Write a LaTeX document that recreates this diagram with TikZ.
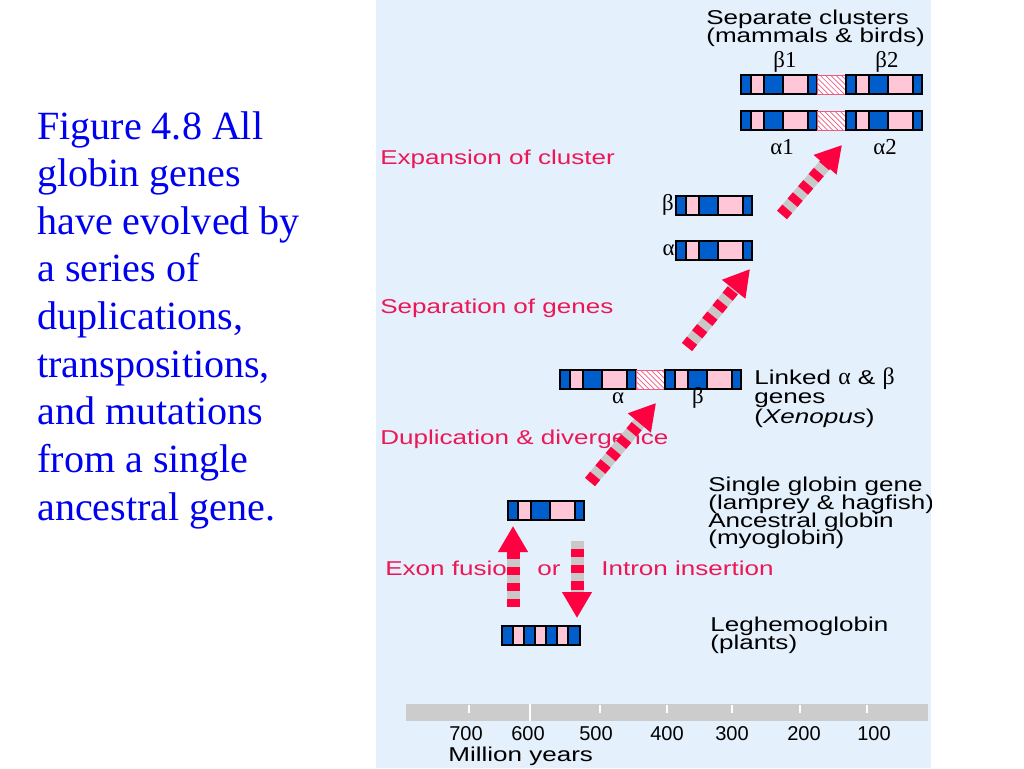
\documentclass[tikz,border=0pt]{standalone}
\usepackage{fontspec}
\setmainfont{Liberation Serif}
\newfontfamily\diagfont[FakeStretch=1.3]{Liberation Sans}
\newfontfamily\digitfont{Liberation Sans}
\newfontfamily\greekfont{Liberation Serif}
\usepackage{xcolor}
\usepackage{tikz}
\usetikzlibrary{arrows.meta}
\usetikzlibrary{patterns}

\definecolor{panelblue}{RGB}{228,240,252}
\definecolor{exonblue}{RGB}{0,94,204}
\definecolor{intronpink}{RGB}{255,198,216}
\definecolor{hatchred}{RGB}{240,90,130}
\definecolor{arrowred}{RGB}{255,0,64}
\definecolor{labelred}{RGB}{236,24,86}
\definecolor{stripegray}{RGB}{200,200,200}
\definecolor{axisgray}{RGB}{204,204,204}
\definecolor{captionblue}{RGB}{0,0,240}

\newcommand{\tightlines}{\lineskiplimit=-20pt\relax}

\tikzset{
  exon/.style={fill=exonblue},
  intron/.style={fill=intronpink},
  gene line/.style={draw=black, line width=0.8pt},
  spacer/.style={draw=hatchred, line width=0.5pt, pattern=north west lines, pattern color=hatchred},
  caption/.style={anchor=north west, inner sep=0, align=left, text=captionblue,
    font=\fontsize{22.8}{27.1}\selectfont},
  redlabel/.style={anchor=base west, inner sep=0, text=labelred,
    font=\diagfont\fontsize{11.4}{10}\selectfont},
  blacklabel/.style={anchor=north west, inner sep=0, align=left,
    font=\diagfont\fontsize{11.4}{10}\selectfont\tightlines},
  greeklabel/.style={inner sep=0, font=\greekfont\fontsize{13}{13}\selectfont},
  yearlabel/.style={anchor=base, inner sep=0, font=\digitfont\fontsize{11.4}{10}\selectfont},
  stripe under/.style={draw=stripegray, line width=7.4pt,
    -{Triangle[length=14.8pt,width=16pt]}},
  stripe over/.style={draw=arrowred, line width=7.4pt, dash pattern=on 4.6pt off 4.6pt,
    -{Triangle[length=14.8pt,width=16pt]}},
}

\newcommand{\globin}[3]{%
  \begin{scope}[shift={(#2,#3)}]
    \fill[intron] (0,0) rectangle (76,19);
    \fill[exon] (0,0) rectangle (10,19);
    \fill[exon] (23,0) rectangle (42,19);
    \fill[exon] (67,0) rectangle (76,19);
    \draw[gene line] (10,0) -- (10,19) (23,0) -- (23,19)
      (42,0) -- (42,19) (67,0) -- (67,19);
    \draw[gene line] (0,0) rectangle (76,19);
    \coordinate (#1) at (38,9.5);
  \end{scope}}

\newcommand{\spacerbox}[3]{%
  \begin{scope}[shift={(#2,#3)}]
    \fill[white] (0,0) rectangle (29,19);
    \draw[spacer] (0,0) rectangle (29,19);
    \coordinate (#1) at (14.5,9.5);
  \end{scope}}

\begin{document}
\begin{tikzpicture}[x=0.02cm,y=-0.02cm]
  \useasboundingbox (0,0) rectangle (1024,768);
  \fill[white] (0,0) rectangle (1024,768);

  \node[caption] (caption) at (37,111) {Figure 4.8 All\\globin genes\\have evolved by\\a series of\\duplications,\\transpositions,\\and mutations\\from a single\\ancestral gene.};

  \fill[panelblue] (376,0) rectangle (931,768);
  \begin{scope}
    \clip (376,0) rectangle (931,768);

    % mammals and birds
    \node[blacklabel] (clusters) at (706,10) {Separate clusters\\(mammals \& birds)};
    \globin{beta1}{741}{75}
    \spacerbox{betagap}{817}{75}
    \globin{beta2}{846}{75}
    \globin{alpha1}{741}{111}
    \spacerbox{alphagap}{817}{111}
    \globin{alpha2}{846}{111}
    \node[greeklabel] (b1) at (785,62) {β1};
    \node[greeklabel] (b2) at (887,62) {β2};
    \node[greeklabel] (a1) at (782,147) {α1};
    \node[greeklabel] (a2) at (885,147) {α2};

    % separated genes
    \globin{betasep}{676}{196}
    \globin{alphasep}{676}{241}
    \node[greeklabel, anchor=east] (bsep) at (674,205) {β};
    \node[greeklabel, anchor=east] (asep) at (675,250) {α};

    % linked genes
    \globin{alphalink}{560}{370}
    \spacerbox{linkgap}{636}{370}
    \globin{betalink}{665}{370}
    \node[greeklabel] (alink) at (618,398) {α};
    \node[greeklabel] (blink) at (698,398) {β};
    \node[blacklabel, font=\diagfont\fontsize{11.4}{11.2}\selectfont\tightlines] (linked) at (754,367)
      {Linked {\greekfont\fontsize{13.5}{10}\selectfont α} \& {\greekfont\fontsize{13.5}{10}\selectfont β}\\genes\\({\itshape Xenopus})};

    % single genes
    \globin{ancestral}{508}{501}
    \begin{scope}[shift={(502,626)}]
      \fill[intron] (0,0) rectangle (78,19);
      \foreach \s in {0,22,44,66}
        \fill[exon] (\s,0) rectangle +(11,19);
      \foreach \s in {11,22,33,44,55,66}
        \draw[gene line] (\s,0) -- (\s,19);
      \draw[gene line] (0,0) rectangle (78,19);
      \coordinate (leghemo) at (39,9.5);
    \end{scope}
    \node[blacklabel] (single) at (708,477) {Single globin gene\\(lamprey \& hagfish)\\Ancestral globin\\(myoglobin)};
    \node[blacklabel] (plants) at (710,617) {Leghemoglobin\\(plants)};

    % events
    \node[redlabel] (expand) at (380,164) {Expansion of cluster};
    \node[redlabel] (separate) at (380,313) {Separation of genes};
    \node[redlabel] (dup) at (380,444) {Duplication \& divergence};
    \node[redlabel] (fusion) at (385,575) {Exon fusion};
    \node[redlabel] (or) at (537,575) {or};
    \node[redlabel] (intron) at (601,575) {Intron insertion};

    \coordinate (fuse-s) at (513,607);
    \coordinate (fuse-e) at (513,526);
    \coordinate (ins-s) at (577,541);
    \coordinate (ins-e) at (577,618);
    \coordinate (dup-s) at (590,482);
    \coordinate (dup-e) at (656,403);
    \coordinate (sep-s) at (687,347);
    \coordinate (sep-e) at (750,269);
    \coordinate (exp-s) at (782,215);
    \coordinate (exp-e) at (842,145);

    \draw[stripe under] (fuse-s) -- (fuse-e);
    \draw[stripe over] (fuse-s) -- (fuse-e);
    \draw[stripe under] (ins-s) -- (ins-e);
    \draw[stripe over, dash phase=4.6pt] (ins-s) -- (ins-e);
    \draw[stripe under] (dup-s) -- (dup-e);
    \draw[stripe over] (dup-s) -- (dup-e);
    \draw[stripe under] (sep-s) -- (sep-e);
    \draw[stripe over] (sep-s) -- (sep-e);
    \draw[stripe under] (exp-s) -- (exp-e);
    \draw[stripe over] (exp-s) -- (exp-e);

    % time axis
    \fill[axisgray] (406,704) rectangle (928,721);
    \foreach \t in {469,600,667,732,800,867}
      \draw[white, line width=0.8pt] (\t,705) -- (\t,713);
    \draw[white, line width=0.8pt] (530,704) -- (530,721);
    \foreach \v/\x in {700/466,600/528,500/596,400/667,300/732,200/804,100/874}
      \node[yearlabel] (yr\v) at (\x,740) {\v};
    \node[redlabel, text=black] (myr) at (448,761) {Million years};
  \end{scope}
\end{tikzpicture}
\end{document}
